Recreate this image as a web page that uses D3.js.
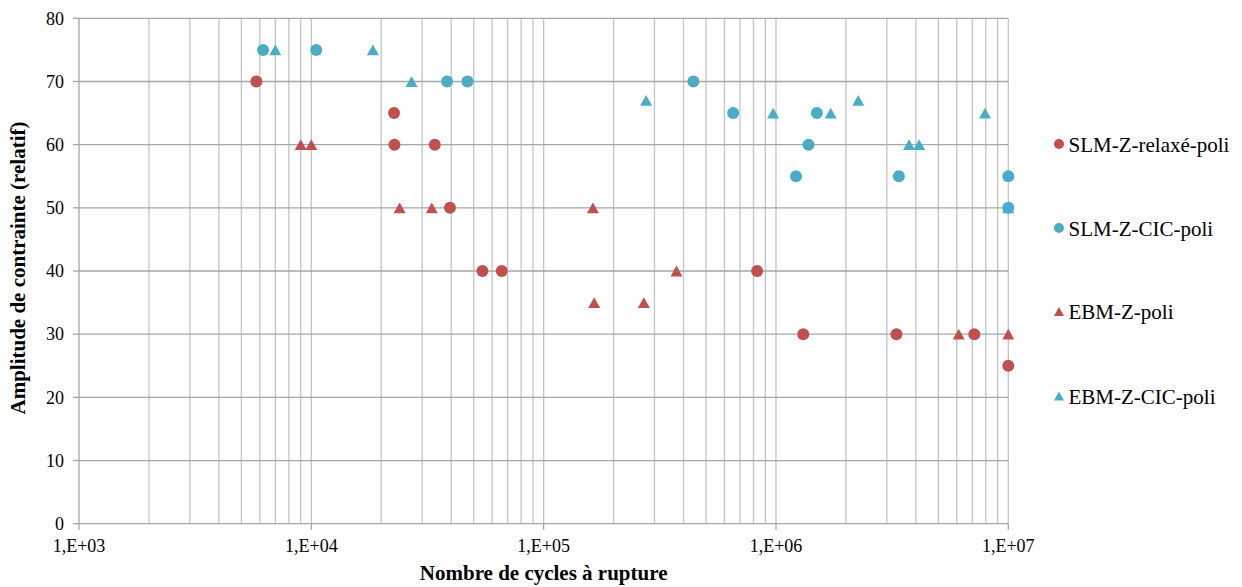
<!DOCTYPE html>
<html>
<head>
<meta charset="utf-8">
<script src="https://cdn.jsdelivr.net/npm/d3@7"></script>
<style>
  html, body { margin: 0; padding: 0; background: #fff; }
  svg { display: block; }
</style>
</head>
<body>
<svg id="chart" width="1242" height="587"></svg>
<script>
// ---- Data ----
const seriesNames = ["SLM-Z-relaxé-poli", "SLM-Z-CIC-poli", "EBM-Z-poli", "EBM-Z-CIC-poli"];
const seriesColors = ["#c0504d", "#4bacc6", "#c0504d", "#4bacc6"];
const seriesShapes = ["circle", "circle", "triangle", "triangle"];

const slmRelaxeN = [5800, 22700, 22800, 34000, 39500, 54500, 66000, 829000, 1310000, 3300000, 7140000, 10000000];
const slmRelaxeS = [70, 65, 60, 60, 50, 40, 40, 40, 30, 30, 30, 25];

const slmCicN = [6200, 10500, 38400, 47000, 441000, 654000, 1220000, 1380000, 1500000, 3380000, 10000000, 10000000];
const slmCicS = [75, 75, 70, 70, 70, 65, 55, 60, 65, 55, 55, 50];

const ebmN = [9000, 10000, 24000, 33000, 163000, 165000, 270000, 373000, 6120000, 10000000];
const ebmS = [60, 60, 50, 50, 50, 35, 35, 40, 30, 30];

const ebmCicN = [7000, 18400, 27000, 276000, 972000, 1720000, 2260000, 3740000, 4130000, 7940000, 10000000];
const ebmCicS = [75, 75, 70, 67, 65, 65, 67, 60, 60, 65, 50];

const xDomain = [1e3, 1e7];
const xTickLabels = ["1,E+03", "1,E+04", "1,E+05", "1,E+06", "1,E+07"];
const yTicks = [0, 10, 20, 30, 40, 50, 60, 70, 80];

const xTitle = "Nombre de cycles à rupture";
const yTitle = "Amplitude de contrainte (relatif)";

(function () {
const FONT = "'Liberation Serif', 'Times New Roman', Times, serif";
const svg = d3.select("#chart");
const pL = 79, pR = 1008.3, pT = 18.3, pB = 523.7;

const x = d3.scaleLog().domain(xDomain).range([pL, pR]);
const y = d3.scaleLinear().domain([0, 80]).range([pB, pT]);

const seriesData = [
  slmRelaxeN.map((n, i) => ({n, s: slmRelaxeS[i]})),
  slmCicN.map((n, i) => ({n, s: slmCicS[i]})),
  ebmN.map((n, i) => ({n, s: ebmS[i]})),
  ebmCicN.map((n, i) => ({n, s: ebmCicS[i]}))
];

const g = svg.append("g");
// vertical grid (log minor + major)
g.selectAll("line.vgrid")
  .data(x.ticks().filter(d => d > xDomain[0]))
  .join("line")
  .attr("x1", d => x(d)).attr("x2", d => x(d))
  .attr("y1", pT).attr("y2", pB)
  .attr("stroke", "#c4c4c4").attr("stroke-width", 1.3);

// horizontal grid
g.selectAll("line.hgrid")
  .data(yTicks)
  .join("line")
  .attr("x1", pL).attr("x2", pR)
  .attr("y1", d => y(d)).attr("y2", d => y(d))
  .attr("stroke", "#a6a6a6").attr("stroke-width", 1.3);

// y axis line
g.append("line")
  .attr("x1", pL).attr("x2", pL).attr("y1", pT).attr("y2", pB)
  .attr("stroke", "#a6a6a6").attr("stroke-width", 1.3);

// y tick marks & labels
g.selectAll("line.ytick").data(yTicks).join("line")
  .attr("x1", pL - 6).attr("x2", pL)
  .attr("y1", d => y(d)).attr("y2", d => y(d))
  .attr("stroke", "#a6a6a6").attr("stroke-width", 1.3);
g.selectAll("text.ylab").data(yTicks).join("text")
  .attr("x", pL - 15).attr("y", d => y(d))
  .attr("dy", "0.35em")
  .attr("text-anchor", "end")
  .attr("font-family", FONT)
  .attr("font-size", 18)
  .attr("fill", "#000")
  .text(d => d);

// x major ticks & labels
const majors = d3.range(3, 8).map(e => Math.pow(10, e));
g.selectAll("line.xtick").data(majors).join("line")
  .attr("x1", d => x(d)).attr("x2", d => x(d))
  .attr("y1", pB).attr("y2", pB + 6)
  .attr("stroke", "#a6a6a6").attr("stroke-width", 1.3);
g.selectAll("text.xlab").data(majors).join("text")
  .attr("x", d => x(d)).attr("y", 552)
  .attr("text-anchor", "middle")
  .attr("font-family", FONT)
  .attr("font-size", 18)
  .attr("fill", "#000")
  .text((d, i) => xTickLabels[i]);

// axis titles
svg.append("text")
  .attr("x", (pL + pR) / 2).attr("y", 580)
  .attr("text-anchor", "middle")
  .attr("font-family", FONT)
  .attr("font-size", 21).attr("font-weight", "bold")
  .attr("fill", "#000")
  .text(xTitle);
svg.append("text")
  .attr("transform", "translate(25,268) rotate(-90)")
  .attr("text-anchor", "middle")
  .attr("font-family", FONT)
  .attr("font-size", 21).attr("font-weight", "bold")
  .attr("fill", "#000")
  .text(yTitle);

// markers
function drawMarker(sel, shape, color, size) {
  if (shape === "circle") {
    sel.append("circle").attr("r", size / 2).attr("fill", color);
  } else {
    const w = size, h = size * 0.9;
    sel.append("path")
      .attr("d", `M0,${-h / 2}L${w / 2},${h / 2}L${-w / 2},${h / 2}Z`)
      .attr("fill", color);
  }
}

const marks = svg.append("g");
seriesData.forEach((pts, si) => {
  const sg = marks.append("g");
  pts.forEach(p => {
    const m = sg.append("g").attr("transform", `translate(${x(p.n)},${y(p.s)})`);
    drawMarker(m, seriesShapes[si], seriesColors[si], 12);
  });
});

// legend
const legendY = [145, 229, 312.5, 397];
seriesNames.forEach((name, i) => {
  const lg = svg.append("g").attr("transform", `translate(1059,${legendY[i]})`);
  const m = lg.append("g").attr("transform", "translate(0,-1)");
  drawMarker(m, seriesShapes[i], seriesColors[i], 10);
  lg.append("text")
    .attr("x", 9.5).attr("y", 0).attr("dy", "0.33em")
    .attr("font-family", FONT)
    .attr("font-size", 21)
    .attr("fill", "#000")
    .text(name);
});
})();
</script>
</body>
</html>
